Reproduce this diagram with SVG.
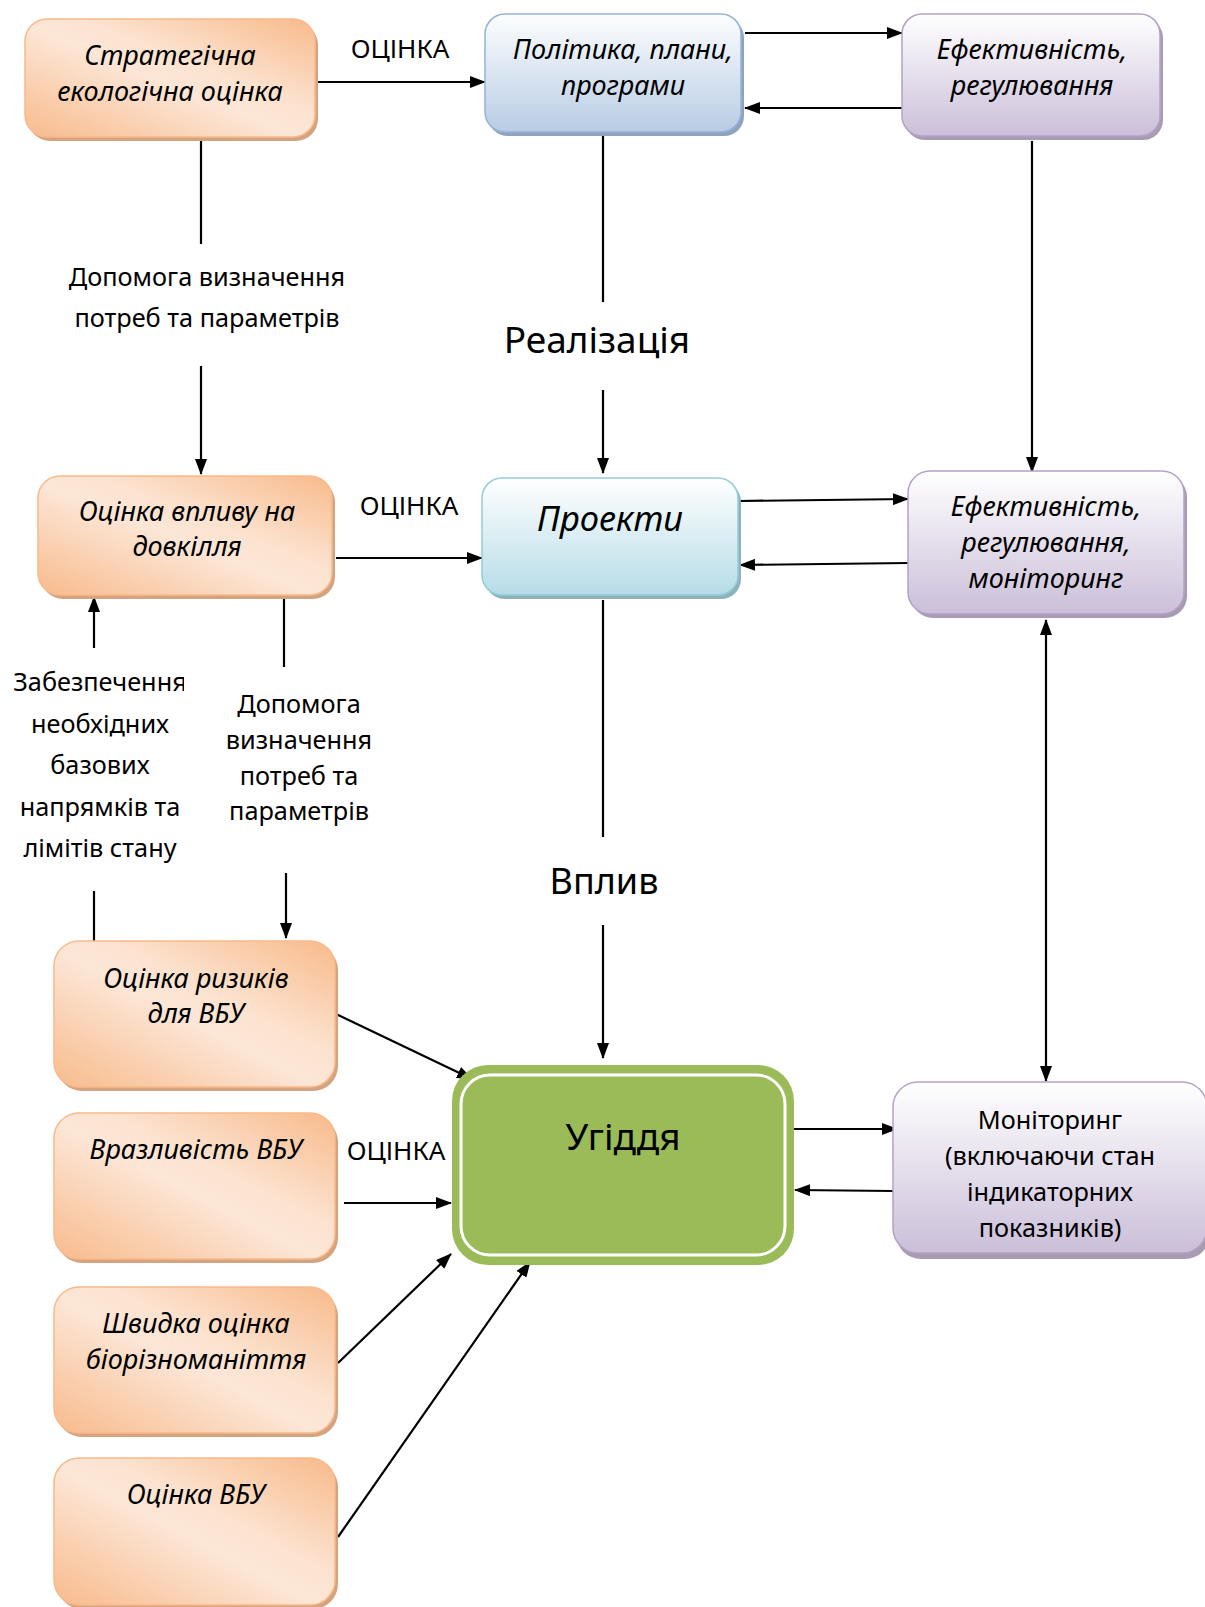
<svg xmlns="http://www.w3.org/2000/svg" width="1205" height="1607" viewBox="0 0 1205 1607">
<defs>
  <linearGradient id="gO" x1="0" y1="1" x2="1" y2="0">
    <stop offset="0" stop-color="#F8BB8C"/>
    <stop offset="0.47" stop-color="#FCE6D6"/>
    <stop offset="0.6" stop-color="#FCE3D0"/>
    <stop offset="1" stop-color="#F8BA8A"/>
  </linearGradient>
  <linearGradient id="gB" x1="0" y1="0" x2="0" y2="1">
    <stop offset="0" stop-color="#FDFEFF"/>
    <stop offset="1" stop-color="#B8CCE4"/>
  </linearGradient>
  <linearGradient id="gC" x1="0" y1="0" x2="0" y2="1">
    <stop offset="0" stop-color="#FFFFFF"/>
    <stop offset="1" stop-color="#B6DCE7"/>
  </linearGradient>
  <linearGradient id="gP" x1="0" y1="0" x2="0" y2="1">
    <stop offset="0" stop-color="#FFFFFF"/>
    <stop offset="1" stop-color="#CBBFD9"/>
  </linearGradient>
  <marker id="ah" viewBox="0 0 16 12" refX="15" refY="6" markerWidth="16" markerHeight="12" orient="auto-start-reverse" markerUnits="userSpaceOnUse">
    <path d="M0,0 L16,6 L0,12 z" fill="#000"/>
  </marker>
  <clipPath id="clipZ"><rect x="0" y="650" width="184" height="60"/></clipPath>
</defs>
<style>
  .t{font-family:"Noto Sans","DejaVu Sans",sans-serif;fill:#000;text-anchor:middle}
  .i{font-style:italic;font-size:27px}
  .l{font-size:25.3px}
  .or{fill:url(#gO);stroke:#F9B98A;stroke-width:1.5}
  .sho{fill:#D4A480}
  .bl{fill:url(#gB);stroke:#95B3D7;stroke-width:1.5}
  .shb{fill:#8FA3BC}
  .cy{fill:url(#gC);stroke:#92CDDC;stroke-width:1.5}
  .shc{fill:#8FB1BA}
  .pu{fill:url(#gP);stroke:#B3A2C7;stroke-width:1.5}
  .shp{fill:#A89CB2}
  #connectors line{stroke:#000;stroke-width:2.2;fill:none}
  #connectors .a{marker-end:url(#ah)}
  #connectors .ab{marker-end:url(#ah);marker-start:url(#ah)}
</style>
<rect width="1205" height="1607" fill="#FFFFFF"/>

<g id="connectors">
  <line class="a" x1="318" y1="82" x2="485" y2="82"/>
  <line x1="201" y1="141" x2="201" y2="244"/>
  <line class="a" x1="201" y1="366" x2="201" y2="474"/>
  <line x1="603" y1="135" x2="603" y2="302"/>
  <line class="a" x1="603" y1="390" x2="603" y2="473"/>
  <line class="a" x1="745" y1="33" x2="902" y2="33"/>
  <line class="a" x1="902" y1="108" x2="745" y2="108"/>
  <line class="a" x1="1032" y1="141" x2="1032" y2="472"/>
  <line class="a" x1="740" y1="501" x2="908" y2="499"/>
  <line class="a" x1="908" y1="563" x2="740" y2="565"/>
  <line class="a" x1="336" y1="558" x2="482" y2="558"/>
  <line class="a" x1="94" y1="648" x2="94" y2="597"/>
  <line x1="94" y1="891" x2="94" y2="941"/>
  <line x1="284" y1="597" x2="284" y2="667"/>
  <line class="a" x1="286" y1="873" x2="286" y2="938"/>
  <line x1="603" y1="600" x2="603" y2="837"/>
  <line class="a" x1="603" y1="925" x2="603" y2="1058"/>
  <line class="ab" x1="1046" y1="620" x2="1046" y2="1081"/>
  <line class="a" x1="336" y1="1014" x2="472" y2="1079"/>
  <line class="a" x1="344" y1="1203" x2="451" y2="1203"/>
  <line class="a" x1="338" y1="1363" x2="451" y2="1254"/>
  <line class="a" x1="338" y1="1537" x2="530" y2="1262"/>
  <line class="a" x1="794" y1="1129" x2="897" y2="1129"/>
  <line class="a" x1="893" y1="1191" x2="795" y2="1190"/>
  <text class="t" style="font-size:26px" x="400" y="58">ОЦІНКА</text>
  <text class="t l" x="207" y="286">Допомога визначення</text>
  <text class="t l" x="207" y="327">потреб та параметрів</text>
  <text class="t" style="font-size:37px" x="597" y="353">Реалізація</text>
  <text class="t" style="font-size:26px" x="409" y="515">ОЦІНКА</text>
  <text class="t l" x="100" y="691" clip-path="url(#clipZ)">Забезпечення</text>
  <text class="t l" x="100" y="733">необхідних</text>
  <text class="t l" x="100" y="774">базових</text>
  <text class="t l" x="100" y="816">напрямків та</text>
  <text class="t l" x="100" y="857">лімітів стану</text>
  <text class="t l" x="299" y="713">Допомога</text>
  <text class="t l" x="299" y="749">визначення</text>
  <text class="t l" x="299" y="785">потреб та</text>
  <text class="t l" x="299" y="820">параметрів</text>
  <text class="t" style="font-size:36px" x="604" y="894">Вплив</text>
  <text class="t" style="font-size:26px" x="396" y="1160">ОЦІНКА</text>
</g>

<g id="node-sea">
  <rect x="28" y="23" width="290" height="118" rx="22" class="sho"/>
  <rect x="25" y="19" width="290" height="118" rx="22" class="or"/>
  <text class="t i" x="170" y="65">Стратегічна</text>
  <text class="t i" x="170" y="101">екологічна оцінка</text>
</g>

<g id="node-policy">
  <rect x="488" y="18" width="256" height="118" rx="20" class="shb"/>
  <rect x="485" y="14" width="256" height="118" rx="20" class="bl"/>
  <text class="t i" x="623" y="59">Політика, плани,</text>
  <text class="t i" x="623" y="95">програми</text>
</g>

<g id="node-eff1">
  <rect x="905" y="18" width="258" height="122" rx="20" class="shp"/>
  <rect x="902" y="14" width="258" height="122" rx="20" class="pu"/>
  <text class="t i" x="1032" y="59">Ефективність,</text>
  <text class="t i" x="1032" y="95">регулювання</text>
</g>

<g id="node-eia">
  <rect x="41" y="480" width="294" height="119" rx="22" class="sho"/>
  <rect x="38" y="476" width="294" height="119" rx="22" class="or"/>
  <text class="t i" x="187" y="521">Оцінка впливу на</text>
  <text class="t i" x="187" y="556">довкілля</text>
</g>

<g id="node-projects">
  <rect x="485" y="482" width="256" height="117" rx="20" class="shc"/>
  <rect x="482" y="478" width="256" height="117" rx="20" class="cy"/>
  <text class="t" style="font-size:34.5px;font-style:italic" x="610" y="531">Проекти</text>
</g>

<g id="node-eff2">
  <rect x="911" y="475" width="276" height="143" rx="22" class="shp"/>
  <rect x="908" y="471" width="276" height="143" rx="22" class="pu"/>
  <text class="t i" x="1046" y="516">Ефективність,</text>
  <text class="t i" x="1046" y="552">регулювання,</text>
  <text class="t i" x="1046" y="588">моніторинг</text>
</g>

<g id="node-risk">
  <rect x="57" y="945" width="281" height="146" rx="25" class="sho"/>
  <rect x="54" y="941" width="281" height="146" rx="25" class="or"/>
  <text class="t i" x="196" y="988">Оцінка ризиків</text>
  <text class="t i" x="196" y="1023">для ВБУ</text>
</g>

<g id="node-vuln">
  <rect x="57" y="1117" width="281" height="146" rx="25" class="sho"/>
  <rect x="54" y="1113" width="281" height="146" rx="25" class="or"/>
  <text class="t i" x="196" y="1159">Вразливість ВБУ</text>
</g>

<g id="node-rapid">
  <rect x="57" y="1291" width="281" height="146" rx="25" class="sho"/>
  <rect x="54" y="1287" width="281" height="146" rx="25" class="or"/>
  <text class="t i" x="196" y="1333">Швидка оцінка</text>
  <text class="t i" x="196" y="1369">біорізноманіття</text>
</g>

<g id="node-assess">
  <rect x="57" y="1462" width="281" height="147" rx="25" class="sho"/>
  <rect x="54" y="1458" width="281" height="147" rx="25" class="or"/>
  <text class="t i" x="196" y="1504">Оцінка ВБУ</text>
</g>

<g id="node-wetland">
  <rect x="452" y="1065" width="342" height="200" rx="36" fill="#9BBB59"/>
  <rect x="461" y="1075" width="324" height="180" rx="29" fill="none" stroke="#FFFFFF" stroke-width="3"/>
  <text class="t" style="font-size:37px" x="623" y="1150">Угіддя</text>
</g>

<g id="node-monitoring">
  <rect x="896" y="1088" width="314" height="171" rx="25" class="shp"/>
  <rect x="893" y="1082" width="314" height="171" rx="25" class="pu"/>
  <text class="t l" x="1050" y="1129">Моніторинг</text>
  <text class="t l" x="1050" y="1165">(включаючи стан</text>
  <text class="t l" x="1050" y="1201">індикаторних</text>
  <text class="t l" x="1050" y="1237">показників)</text>
</g>
</svg>
